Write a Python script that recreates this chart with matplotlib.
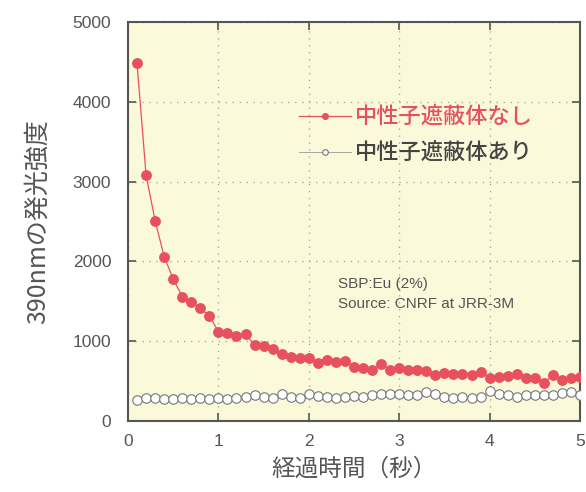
import numpy as np
import matplotlib.pyplot as plt

plt.rcParams['font.family'] = ['Liberation Sans', 'Noto Sans CJK JP', 'DejaVu Sans']

# 経過時間（秒）
jikan = np.round(np.arange(1, 51) * 0.1, 1)

# 中性子遮蔽体なし
nashi = [4480, 3080, 2510, 2060, 1780, 1560, 1490, 1410, 1320, 1120,
         1100, 1060, 1090, 950, 945, 905, 835, 805, 790, 785,
         725, 765, 740, 755, 680, 660, 640, 720, 640, 660,
         640, 640, 625, 575, 600, 590, 585, 575, 615, 535,
         555, 565, 590, 535, 535, 480, 575, 515, 545, 555]

# 中性子遮蔽体あり
ari = [260, 290, 290, 280, 280, 285, 280, 285, 280, 285,
       280, 285, 300, 330, 300, 290, 340, 300, 290, 340,
       310, 300, 290, 300, 310, 300, 330, 340, 340, 340,
       330, 320, 360, 340, 300, 290, 300, 290, 300, 370,
       340, 330, 300, 320, 330, 320, 330, 350, 360, 320]

aka = '#e8505e'
hai = '#555555'
jp = ['Noto Sans CJK JP', 'DejaVu Sans']

fig = plt.figure(figsize=(5.86, 4.92), dpi=100)
ax = fig.add_axes([128/586, 71/492, 452/586, 399/492])
ax.set_facecolor('#fafadb')

ax.plot(jikan, nashi, '-o', color=aka, lw=0.9, ms=6.8, mec=aka, mfc=aka,
        label='中性子遮蔽体なし', zorder=3)
ax.plot(jikan, ari, '-o', color='#999999', lw=0.6, ms=6.8, mec='#777777',
        mfc='white', mew=0.8, label='中性子遮蔽体あり', zorder=3)

ax.set_xlim(0, 5)
ax.set_ylim(0, 5000)
ax.set_xticks([0, 1, 2, 3, 4, 5])
ax.set_yticks([0, 1000, 2000, 3000, 4000, 5000])
ax.tick_params(direction='in', length=6, width=1.2, color='#555555',
               top=True, right=True, labelsize=12.5, labelcolor=hai)
ax.tick_params(axis='y', pad=12)
ax.tick_params(axis='x', pad=9)
for s in ax.spines.values():
    s.set_color('#555555')
    s.set_linewidth(1.5)

ax.grid(True, ls=(0, (1, 4)), color='#aaaaaa', lw=1.0)

ax.set_xlabel('経過時間（秒）', fontsize=17, color=hai, family=jp, labelpad=7)
ax.set_ylabel('390nmの発光強度', fontsize=18, color=hai, family=jp, labelpad=16)

ax.text(2.32, 1590, 'SBP:Eu (2%)\nSource: CNRF at JRR-3M', fontsize=11,
        color=hai, va='center', ha='left', linespacing=1.5)

leg = ax.legend(loc='upper left', bbox_to_anchor=(0.335, 0.84), frameon=False,
                prop={'family': jp, 'size': 16, 'weight': 'medium'},
                markerscale=0.6, handlelength=2.3, handletextpad=0.2,
                labelspacing=0.6)
leg.get_texts()[0].set_color(aka)
leg.get_texts()[1].set_color('#444444')

plt.savefig('out.png', dpi=100, facecolor='white')
